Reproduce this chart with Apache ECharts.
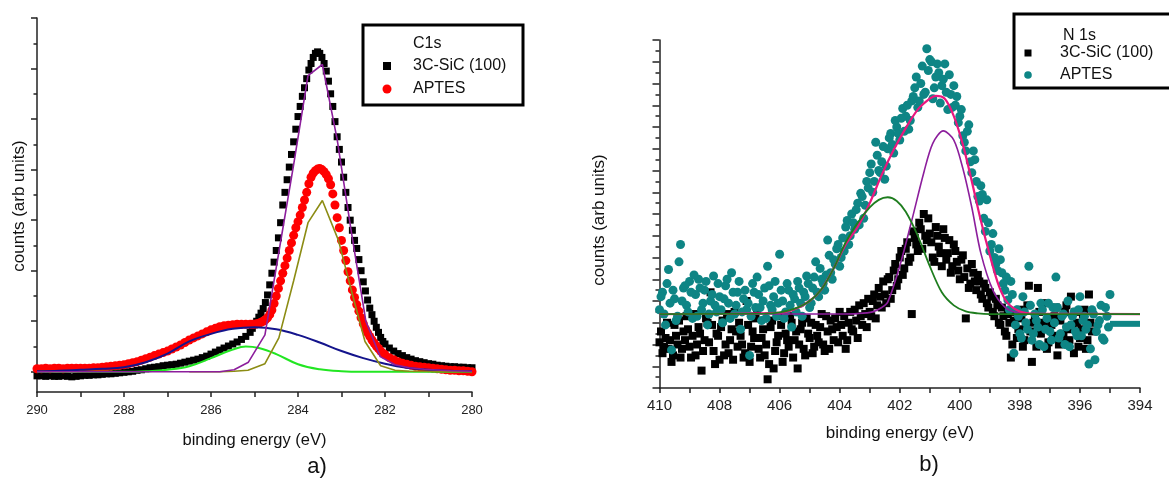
<!DOCTYPE html>
<html>
<head>
<meta charset="utf-8">
<script src="https://cdn.jsdelivr.net/npm/echarts@6/dist/echarts.min.js"></script>
<style>
  html, body { margin: 0; padding: 0; background: #ffffff; }
  #chart { width: 1169px; height: 478px; }
</style>
</head>
<body>
<div id="chart"></div>
<script>
// ---------- a) C1s spectra (binding energy in eV, counts in arb. units) ----------
const c1sEnergy = [
  290.0,289.9,289.8,289.7,289.6,289.5,289.4,289.3,289.2,289.1,
  289.0,288.9,288.8,288.7,288.6,288.5,288.4,288.3,288.2,288.1,
  288.0,287.9,287.8,287.7,287.6,287.5,287.4,287.3,287.2,287.1,
  287.0,286.9,286.8,286.7,286.6,286.5,286.4,286.3,286.2,286.1,
  286.0,285.9,285.8,285.7,285.6,285.5,285.4,285.3,285.2,285.1,
  285.05,285.00,284.95,284.90,284.85,284.80,284.75,284.70,284.65,284.60,
  284.55,284.50,284.45,284.40,284.35,284.30,284.25,284.20,284.15,284.10,
  284.05,284.00,283.95,283.90,283.85,283.80,283.75,283.70,283.65,283.60,
  283.55,283.50,283.45,283.40,283.35,283.30,283.25,283.20,283.15,283.10,
  283.05,283.00,282.95,282.90,282.85,282.80,282.75,282.70,282.65,282.60,
  282.55,282.50,282.45,282.40,282.35,282.30,282.25,282.20,282.15,282.10,
  282.05,
  282.0,281.9,281.8,281.7,281.6,281.5,281.4,281.3,281.2,281.1,
  281.0,280.9,280.8,280.7,280.6,280.5,280.4,280.3,280.2,280.1,280.0
];
const c1sSiC = [
  -0.08,-0.08,-0.09,-0.08,-0.09,-0.09,-0.08,-0.09,-0.10,-0.09,
  -0.08,-0.07,-0.07,-0.06,-0.06,-0.05,-0.04,-0.04,-0.03,-0.02,
  -0.01,0.00,0.01,0.03,0.04,0.06,0.08,0.09,0.10,0.12,
  0.13,0.14,0.15,0.17,0.19,0.21,0.23,0.25,0.28,0.31,
  0.35,0.39,0.43,0.47,0.51,0.55,0.59,0.64,0.70,0.78,
  0.86,0.93,1.00,1.08,1.16,1.25,1.37,1.52,1.72,1.95,
  2.17,2.40,2.65,2.95,3.30,3.55,3.80,4.05,4.30,4.55,
  4.80,5.05,5.25,5.45,5.62,5.80,5.97,6.10,6.22,6.30,
  6.33,6.30,6.22,6.10,5.95,5.75,5.50,5.25,4.95,4.65,
  4.40,4.15,3.85,3.55,3.25,3.00,2.80,2.60,2.44,2.22,
  2.00,1.78,1.60,1.42,1.26,1.13,1.00,0.88,0.78,0.68,
  0.60,
  0.55,0.47,0.41,0.36,0.32,0.28,0.25,0.22,0.20,0.18,
  0.16,0.15,0.13,0.12,0.11,0.10,0.10,0.09,0.09,0.08,0.08
];
const c1sAPTES = [
  0.06,0.06,0.07,0.06,0.07,0.07,0.06,0.07,0.07,0.07,
  0.07,0.07,0.07,0.08,0.08,0.09,0.10,0.11,0.12,0.13,
  0.14,0.16,0.18,0.20,0.23,0.26,0.29,0.32,0.35,0.38,
  0.41,0.45,0.49,0.53,0.58,0.63,0.67,0.71,0.75,0.79,
  0.83,0.86,0.89,0.91,0.92,0.93,0.94,0.94,0.94,0.94,
  0.94,0.94,0.95,0.96,0.98,1.00,1.03,1.07,1.13,1.22,
  1.35,1.50,1.65,1.80,1.95,2.10,2.25,2.40,2.55,2.70,
  2.85,2.97,3.10,3.25,3.40,3.55,3.72,3.85,3.93,3.98,
  4.01,4.02,4.00,3.96,3.90,3.82,3.70,3.52,3.30,3.05,
  2.85,2.60,2.40,2.20,1.98,1.80,1.62,1.47,1.33,1.20,
  1.07,0.95,0.85,0.77,0.70,0.63,0.57,0.51,0.46,0.41,
  0.37,
  0.34,0.28,0.24,0.20,0.17,0.15,0.13,0.11,0.10,0.09,
  0.08,0.07,0.06,0.05,0.04,0.03,0.03,0.02,0.02,0.01,0.00
];
// fitted components
const c1sBroadE = [290,289.5,289,288.5,288,287.5,287,286.5,286,285.5,285,284.5,284,283.5,283,282.5,282,281.5,281,280.5,280];
const c1sBroad  = [0.01,0.02,0.04,0.06,0.09,0.19,0.36,0.60,0.75,0.85,0.88,0.84,0.73,0.58,0.41,0.27,0.16,0.08,0.04,0.02,0.01];
const c1sMidE = [290,289,288,287.5,287,286.5,286,285.5,285.2,284.9,284.5,284,283.5,283,282.5,281,280];
const c1sMid  = [0,0,0,0.01,0.04,0.11,0.27,0.44,0.50,0.47,0.35,0.15,0.05,0.01,0,0,0];
const c1sSiCFitE = [290,285.8,285.47,285.14,284.76,284.44,284.1,283.77,283.44,283.1,282.77,282.44,282.11,281.77,281.44,281.1,280.5,280];
const c1sSiCFit  = [0,0,0.04,0.19,0.73,2.37,4.1,5.86,6.08,4.6,2.75,1.0,0.3,0.14,0.08,0.05,0.02,0.01];
const c1sMainE = [286.5,285.8,285.47,285.15,284.76,284.44,284.1,283.77,283.44,283.07,282.77,282.46,282.1,281.77,281.44,280];
const c1sMain  = [0,0,0.01,0.03,0.16,0.67,1.8,2.95,3.39,2.6,1.6,0.6,0.12,0.03,0.01,0];

// ---------- b) N 1s spectra (two interleaved energy scans per sample) ----------
const n1sSiCEnergyA = [
  410.0,409.9,409.8,409.7,409.6,409.5,409.4,409.3,409.2,409.1,
  409.0,408.9,408.8,408.7,408.6,408.5,408.4,408.3,408.2,408.1,
  408.0,407.9,407.8,407.7,407.6,407.5,407.4,407.3,407.2,407.1,
  407.0,406.9,406.8,406.7,406.6,406.5,406.4,406.3,406.2,406.1,
  406.0,405.9,405.8,405.7,405.6,405.5,405.4,405.3,405.2,405.1,
  405.0,404.9,404.8,404.7,404.6,404.5,404.4,404.3,404.2,404.1,
  404.0,403.9,403.8,403.7,403.6,403.5,403.4,403.3,403.2,403.1,
  403.0,402.9,402.8,402.7,402.6,402.5,402.4,402.3,402.2,402.1,
  402.0,401.9,401.8,401.7,401.6,401.5,401.4,401.3,401.2,401.1,
  401.0,400.9,400.8,400.7,400.6,400.5,400.4,400.3,400.2,400.1,
  400.0,399.9,399.8,399.7,399.6,399.5,399.4,399.3,399.2,399.1,
  399.0,398.9,398.8,398.7,398.6,398.5,398.4,398.3,398.2,398.1,
  398.0,397.9,397.8,397.7,397.6,397.5,397.4,397.3,397.2,397.1,
  397.0,396.9,396.8,396.7,396.6,396.5,396.4,396.3,396.2,396.1,
  396.0,395.9,395.8,395.7,395.6
];
const n1sSiCA = [
  2.1,1.6,2.3,1.8,1.2,2.9,2.0,1.4,2.6,3.3,
  1.9,2.4,1.5,2.8,0.8,2.2,3.0,4.4,1.7,2.5,
  1.3,3.1,2.0,1.6,2.7,3.5,1.9,2.4,1.4,4.0,
  1.2,2.6,3.2,1.8,2.3,1.5,0.4,2.8,0.9,2.1,
  3.3,1.2,2.5,1.9,3.0,2.2,0.9,2.7,1.8,3.2,
  2.3,1.6,2.9,2.1,3.4,1.7,2.6,3.1,2.2,2.8,
  3.5,2.4,1.8,3.0,2.7,3.6,2.3,3.3,3.9,2.8,
  3.5,4.0,3.2,4.6,3.7,4.3,5.0,4.1,5.4,4.7,
  6.0,5.2,6.4,5.8,3.4,6.9,6.3,7.3,8.0,6.8,
  7.1,6.0,7.4,6.5,5.6,6.9,6.2,5.3,6.6,5.8,
  5.0,6.1,3.2,4.6,5.7,4.9,5.2,4.3,4.8,3.9,
  4.4,3.5,4.1,3.0,3.7,2.6,3.4,1.4,3.1,2.3,
  3.6,1.9,2.8,4.7,1.2,3.3,4.6,2.5,3.0,1.8,
  3.2,2.4,3.7,2.0,2.2,3.5,2.7,4.2,1.6,3.0,
  2.3,3.4,1.8,4.3,2.6
];
const n1sSiCEnergyB = [
  409.95,409.85,409.75,409.65,409.55,409.45,409.35,409.25,409.15,409.05,
  408.95,408.85,408.75,408.65,408.55,408.45,408.35,408.25,408.15,408.05,
  407.95,407.85,407.75,407.65,407.55,407.45,407.35,407.25,407.15,407.05,
  406.95,406.85,406.75,406.65,406.55,406.45,406.35,406.25,406.15,406.05,
  405.95,405.85,405.75,405.65,405.55,405.45,405.35,405.25,405.15,405.05,
  404.95,404.85,404.75,404.65,404.55,404.45,404.35,404.25,404.15,404.05,
  403.95,403.85,403.75,403.65,403.55,403.45,403.35,403.25,403.15,403.05,
  402.95,402.85,402.75,402.65,402.55,402.45,402.35,402.25,402.15,402.05,
  401.95,401.85,401.75,401.65,401.55,401.45,401.35,401.25,401.15,401.05,
  400.95,400.85,400.75,400.65,400.55,400.45,400.35,400.25,400.15,400.05,
  399.95,399.85,399.75,399.65,399.55,399.45,399.35,399.25,399.15,399.05,
  398.95,398.85,398.75,398.65,398.55,398.45,398.35,398.25,398.15,398.05,
  397.95,397.85,397.75,397.65,397.55,397.45,397.35,397.25,397.15,397.05,
  396.95,396.85,396.75,396.65,396.55,396.45,396.35,396.25,396.15,396.05,
  395.95,395.85,395.75,395.65
];
const n1sSiCB = [
  2.6,1.9,3.0,2.2,1.5,2.4,3.1,1.8,2.2,2.7,
  1.4,3.4,2.0,2.5,1.7,3.2,2.1,2.9,1.1,2.4,
  2.8,1.5,3.4,2.2,1.3,2.6,3.0,2.0,1.6,2.9,
  1.9,2.3,3.6,1.4,2.7,2.0,1.1,3.1,1.7,2.4,
  2.9,1.6,2.2,3.3,1.4,2.6,2.0,3.0,1.5,2.5,
  3.0,1.9,2.4,2.8,2.0,3.3,1.8,2.7,3.2,2.1,
  2.9,3.3,2.2,3.5,2.6,3.1,3.8,2.9,3.4,4.1,
  3.3,4.3,3.8,4.2,4.9,3.9,5.1,4.5,5.7,5.0,
  6.3,5.5,6.7,6.0,7.2,6.6,7.6,6.4,7.0,7.8,
  6.7,5.8,7.0,6.2,7.3,5.9,6.8,5.6,6.3,5.4,
  5.9,5.1,5.5,4.8,5.3,4.5,4.9,4.1,4.6,3.7,
  4.2,3.3,3.8,2.9,3.3,2.4,3.0,2.0,3.5,2.7,
  3.2,2.2,3.8,2.6,3.0,1.9,3.5,2.8,3.9,2.1,
  2.9,3.3,1.5,3.1,2.5,3.8,2.2,2.9,3.5,1.9,
  2.7,3.6,2.2,3.0
];
const n1sAPTESEnergyA = [
  410.0,409.9,409.8,409.7,409.6,409.5,409.4,409.3,409.2,409.1,
  409.0,408.9,408.8,408.7,408.6,408.5,408.4,408.3,408.2,408.1,
  408.0,407.9,407.8,407.7,407.6,407.5,407.4,407.3,407.2,407.1,
  407.0,406.9,406.8,406.7,406.6,406.5,406.4,406.3,406.2,406.1,
  406.0,405.9,405.8,405.7,405.6,405.5,405.4,405.3,405.2,405.1,
  405.0,404.9,404.8,404.7,404.6,404.5,404.4,404.3,404.2,404.1,
  404.0,403.9,403.8,403.7,403.6,403.5,403.4,403.3,403.2,403.1,
  403.0,402.9,402.8,402.7,402.6,402.5,402.4,402.3,402.2,402.1,
  402.0,401.9,401.8,401.7,401.6,401.5,401.4,401.3,401.2,401.1,
  401.0,400.9,400.8,400.7,400.6,400.5,400.4,400.3,400.2,400.1,
  400.0,399.9,399.8,399.7,399.6,399.5,399.4,399.3,399.2,399.1,
  399.0,398.9,398.8,398.7,398.6,398.5,398.4,398.3,398.2,398.1,
  398.0,397.9,397.8,397.7,397.6,397.5,397.4,397.3,397.2,397.1,
  397.0,396.9,396.8,396.7,396.6,396.5,396.4,396.3,396.2,396.1,
  396.0,395.9,395.8,395.7,395.6,395.5,395.4,395.3,395.2,395.1,
  395.0
];
const n1sAPTESA = [
  3.6,4.4,2.9,5.45,1.75,4.1,3.3,6.6,4.6,3.8,
  4.9,3.2,4.3,5.0,3.6,4.5,2.9,4.0,5.15,3.5,
  4.2,3.0,4.7,3.9,5.3,3.4,4.4,2.7,4.1,3.6,
  1.5,4.8,3.7,4.3,3.1,4.6,5.6,3.8,4.2,3.3,
  6.15,4.0,3.5,4.5,2.8,4.1,4.9,3.9,4.4,5.15,
  3.7,4.6,5.8,4.2,5.0,4.5,6.8,5.3,5.9,6.4,
  5.6,6.9,7.4,6.6,8.0,7.3,8.5,8.95,7.8,9.5,
  9.9,9.0,11.3,10.0,10.4,9.6,11.0,11.7,10.8,12.0,
  11.4,12.85,12.5,11.9,13.2,13.8,12.9,14.0,13.5,15.6,
  15.1,13.3,14.3,14.5,13.9,14.9,12.8,13.5,13.9,13.4,
  12.5,11.6,10.9,12.1,9.9,10.5,8.8,9.3,7.8,8.65,
  6.3,7.1,5.7,6.4,5.3,4.5,4.05,4.9,1.6,3.6,
  2.5,4.2,3.0,5.6,2.2,3.4,2.8,3.9,1.9,3.2,
  2.6,3.7,5.1,2.3,3.3,2.0,4.0,2.9,3.5,2.4,
  4.2,3.1,2.7,1.1,3.6,1.3,2.9,3.8,2.2,3.3,
  4.3
];
const n1sAPTESEnergyB = [
  409.95,409.85,409.75,409.65,409.55,409.45,409.35,409.25,409.15,409.05,
  408.95,408.85,408.75,408.65,408.55,408.45,408.35,408.25,408.15,408.05,
  407.95,407.85,407.75,407.65,407.55,407.45,407.35,407.25,407.15,407.05,
  406.95,406.85,406.75,406.65,406.55,406.45,406.35,406.25,406.15,406.05,
  405.95,405.85,405.75,405.65,405.55,405.45,405.35,405.25,405.15,405.05,
  404.95,404.85,404.75,404.65,404.55,404.45,404.35,404.25,404.15,404.05,
  403.95,403.85,403.75,403.65,403.55,403.45,403.35,403.25,403.15,403.05,
  402.95,402.85,402.75,402.65,402.55,402.45,402.35,402.25,402.15,402.05,
  401.95,401.85,401.75,401.65,401.55,401.45,401.35,401.25,401.15,401.05,
  400.95,400.85,400.75,400.65,400.55,400.45,400.35,400.25,400.15,400.05,
  399.95,399.85,399.75,399.65,399.55,399.45,399.35,399.25,399.15,399.05,
  398.95,398.85,398.75,398.65,398.55,398.45,398.35,398.25,398.15,398.05,
  397.95,397.85,397.75,397.65,397.55,397.45,397.35,397.25,397.15,397.05,
  396.95,396.85,396.75,396.65,396.55,396.45,396.35,396.25,396.15,396.05,
  395.95,395.85,395.75,395.65,395.55,395.45,395.35,395.25,395.15,395.05
];
const n1sAPTESB = [
  4.2,3.4,4.8,3.9,4.5,3.1,5.8,4.0,4.7,3.5,
  4.4,5.2,3.3,4.6,3.9,4.9,3.4,4.3,3.8,4.8,
  3.6,4.1,5.0,3.2,4.4,3.8,4.9,3.5,4.5,3.9,
  3.3,4.4,5.1,3.7,4.0,3.2,4.7,3.6,4.9,3.9,
  4.5,3.2,4.8,3.8,4.3,3.5,4.6,3.3,4.2,4.8,
  3.9,5.1,4.4,5.5,4.8,5.2,6.1,5.0,5.7,6.6,
  6.0,6.3,7.7,7.0,7.6,8.2,7.5,8.8,8.4,9.2,
  10.3,9.5,10.7,9.9,11.1,10.2,11.5,11.2,12.3,11.7,
  12.4,11.8,13.0,12.3,13.4,14.3,13.2,14.8,13.6,14.6,
  15.0,13.8,14.9,13.1,14.2,13.6,14.4,12.9,13.0,12.2,
  12.8,11.3,11.8,10.4,10.9,9.5,8.6,8.9,7.2,7.6,
  6.6,6.0,5.4,5.9,4.8,5.1,3.6,4.3,2.9,3.3,
  2.3,3.5,2.7,3.8,2.5,3.1,2.0,3.6,2.7,3.9,
  2.2,3.0,3.7,2.5,3.4,2.8,1.9,3.3,2.6,3.6,
  2.4,3.3,2.9,1.8,3.4,2.6,3.1,2.3,3.7,2.8
];
const n1sAPTESTailE = [395.0, 394.0];
const n1sAPTESTail  = [2.95, 2.95];
// fitted components
const n1sHighE = [410,406.5,406.0,405.5,405.0,404.6,404.2,403.8,403.4,403.0,402.7,402.4,402.1,401.8,401.4,401.0,400.6,400.2,399.8,399.4,399.0,394];
const n1sHigh  = [3.4,3.42,3.48,3.65,4.0,4.55,5.5,6.7,7.6,8.3,8.65,8.77,8.6,8.1,7.0,5.6,4.4,3.8,3.52,3.43,3.4,3.4];
const n1sLowE = [410,404.0,403.4,402.9,402.6,402.4,402.0,401.6,401.2,400.9,400.55,400.2,399.9,399.6,399.3,398.9,398.5,398.1,397.6,394];
const n1sLow  = [3.4,3.4,3.42,3.5,3.7,3.95,5.6,7.7,9.9,11.25,11.82,11.4,10.1,8.3,6.2,4.5,3.72,3.47,3.41,3.4];
const n1sSumE = [410,406.0,405.5,405.0,404.6,404.2,403.8,403.4,403.0,402.6,402.2,401.8,401.4,401.0,400.8,400.5,400.2,399.9,399.6,399.3,399.0,398.7,398.4,398.0,397.5,394];
const n1sSum  = [3.4,3.46,3.62,4.0,4.55,5.5,6.6,7.4,8.5,9.8,10.95,11.95,12.8,13.3,13.43,13.3,12.5,11.2,9.5,7.7,6.1,4.7,3.9,3.52,3.42,3.4];

// tick sets
const c1sMajorTicks = [0,1,2,3,4,5,6,7];
const c1sMinorTicks = [0.5,1.5,2.5,3.5,4.5,5.5,6.5];

const FONT = "'Liberation Sans', Arial, sans-serif";
const AX = '#222';
const pairs = (xs, ys) => xs.map((x, i) => [x, ys[i]]);

const chart = echarts.init(document.getElementById('chart'), null, { renderer: 'canvas' });

function xAxisFor(grid, min, max, fontSize, margin) {
  return {
    type: 'value', gridIndex: grid, min: min, max: max, interval: 2, inverse: true,
    axisLine: { show: true, onZero: false, lineStyle: { color: AX, width: 1.5 } },
    axisTick: { show: true, length: 5, lineStyle: { color: AX, width: 1.5 } },
    minorTick: { show: true, splitNumber: 2, length: 5, lineStyle: { color: AX, width: 1.5 } },
    axisLabel: { fontSize: fontSize, color: '#222', fontFamily: FONT, margin: margin },
    splitLine: { show: false }, minorSplitLine: { show: false }
  };
}

function line(name, xi, yi, xs, ys, color, width, smooth) {
  return {
    name: name, type: 'line', xAxisIndex: xi, yAxisIndex: yi,
    data: pairs(xs, ys), symbol: 'none', smooth: smooth,
    lineStyle: { color: color, width: width }, itemStyle: { color: color },
    silent: true, animation: false
  };
}

function dots(name, xi, yi, data, symbol, size, color) {
  return {
    name: name, type: 'scatter', xAxisIndex: xi, yAxisIndex: yi,
    data: data, symbol: symbol, symbolSize: size,
    itemStyle: { color: color, opacity: 1 }, silent: true, animation: false
  };
}

const option = {
  backgroundColor: '#ffffff',
  animation: false,
  grid: [
    { left: 37, top: 18, width: 435, height: 374 },
    { left: 659.5, top: 40, width: 480.5, height: 348 }
  ],
  xAxis: [
    xAxisFor(0, 280, 290, 13, 12),
    xAxisFor(1, 394, 410, 15, 10)
  ],
  yAxis: [
    {
      type: 'value', gridIndex: 0, min: -0.4, max: 7,
      axisLine: { show: true, onZero: false, lineStyle: { color: AX, width: 1.5 } },
      axisTick: { show: true, length: 6, customValues: c1sMajorTicks, lineStyle: { color: AX, width: 1.5 } },
      axisLabel: { show: false }, splitLine: { show: false }
    },
    {
      type: 'value', gridIndex: 0, min: -0.4, max: 7, position: 'left',
      axisLine: { show: false },
      axisTick: { show: true, length: 3.5, customValues: c1sMinorTicks, lineStyle: { color: AX, width: 1.5 } },
      axisLabel: { show: false }, splitLine: { show: false }
    },
    {
      type: 'value', gridIndex: 1, min: 0, max: 16, interval: 1,
      axisLine: { show: true, onZero: false, lineStyle: { color: AX, width: 1.5 } },
      axisTick: { show: true, length: 7, lineStyle: { color: AX, width: 1.5 } },
      minorTick: { show: true, splitNumber: 2, length: 4, lineStyle: { color: AX, width: 1.5 } },
      axisLabel: { show: false }, splitLine: { show: false }, minorSplitLine: { show: false }
    }
  ],
  series: [
    // a) C1s
    dots('3C-SiC (100)', 0, 0, pairs(c1sEnergy, c1sSiC), 'rect', 7, '#000000'),
    dots('APTES', 0, 0, pairs(c1sEnergy, c1sAPTES), 'circle', 9, '#ff0000'),
    line('C1s component 3', 0, 0, c1sMidE, c1sMid, '#22e622', 2, 0.4),
    line('C1s component 2', 0, 0, c1sBroadE, c1sBroad, '#14148c', 2, 0.4),
    line('C1s component 1', 0, 0, c1sMainE, c1sMain, '#8c8c14', 1.6, false),
    line('C1s SiC fit', 0, 0, c1sSiCFitE, c1sSiCFit, '#8c1e9c', 1.6, false),
    // b) N 1s
    dots('3C-SiC (100)', 1, 2, pairs(n1sSiCEnergyA, n1sSiCA).concat(pairs(n1sSiCEnergyB, n1sSiCB)), 'rect', 8, '#000000'),
    dots('APTES', 1, 2, pairs(n1sAPTESEnergyA, n1sAPTESA).concat(pairs(n1sAPTESEnergyB, n1sAPTESB)), 'circle', 9, '#0e8585'),
    line('APTES tail', 1, 2, n1sAPTESTailE, n1sAPTESTail, '#0e8585', 6, false),
    line('N 1s low-energy component', 1, 2, n1sLowE, n1sLow, '#8c1e9c', 1.6, 0.3),
    line('N 1s sum', 1, 2, n1sSumE, n1sSum, '#e8187e', 2.2, 0.3),
    line('N 1s high-energy component', 1, 2, n1sHighE, n1sHigh, '#1e7d1e', 1.8, 0.3)
  ],
  graphic: [
    // axis titles and panel letters
    { type: 'text', x: 254.5, y: 440, z: 20, style: { text: 'binding energy (eV)', fontSize: 16.5, fontFamily: FONT, fill: '#111', align: 'center', verticalAlign: 'middle' } },
    { type: 'text', x: 19, y: 206, rotation: Math.PI / 2, z: 20, style: { text: 'counts (arb units)', fontSize: 17, fontFamily: FONT, fill: '#111', align: 'center', verticalAlign: 'middle' } },
    { type: 'text', x: 317, y: 467, z: 20, style: { text: 'a)', fontSize: 22, fontFamily: FONT, fill: '#111', align: 'center', verticalAlign: 'middle' } },
    { type: 'text', x: 900, y: 433, z: 20, style: { text: 'binding energy (eV)', fontSize: 17, fontFamily: FONT, fill: '#111', align: 'center', verticalAlign: 'middle' } },
    { type: 'text', x: 599, y: 220, rotation: Math.PI / 2, z: 20, style: { text: 'counts (arb units)', fontSize: 17, fontFamily: FONT, fill: '#111', align: 'center', verticalAlign: 'middle' } },
    { type: 'text', x: 929, y: 465, z: 20, style: { text: 'b)', fontSize: 22, fontFamily: FONT, fill: '#111', align: 'center', verticalAlign: 'middle' } },

    // legend a)
    { type: 'rect', z: 30, shape: { x: 363, y: 25, width: 160, height: 80 }, style: { fill: '#ffffff', stroke: '#000000', lineWidth: 3 } },
    { type: 'text', x: 413, y: 44, z: 31, style: { text: 'C1s', fontSize: 16, fontFamily: FONT, fill: '#111', align: 'left', verticalAlign: 'middle' } },
    { type: 'rect', z: 31, shape: { x: 383, y: 62, width: 8, height: 8 }, style: { fill: '#000000' } },
    { type: 'text', x: 413, y: 66, z: 31, style: { text: '3C-SiC (100)', fontSize: 16, fontFamily: FONT, fill: '#111', align: 'left', verticalAlign: 'middle' } },
    { type: 'circle', z: 31, shape: { cx: 387, cy: 89, r: 4.5 }, style: { fill: '#ff0000' } },
    { type: 'text', x: 413, y: 89, z: 31, style: { text: 'APTES', fontSize: 16, fontFamily: FONT, fill: '#111', align: 'left', verticalAlign: 'middle' } },

    // legend b)
    { type: 'rect', z: 30, shape: { x: 1014, y: 14, width: 170, height: 74 }, style: { fill: '#ffffff', stroke: '#000000', lineWidth: 3 } },
    { type: 'text', x: 1063, y: 36, z: 31, style: { text: 'N 1s', fontSize: 16, fontFamily: FONT, fill: '#111', align: 'left', verticalAlign: 'middle' } },
    { type: 'rect', z: 31, shape: { x: 1024.5, y: 49.5, width: 7, height: 7 }, style: { fill: '#000000' } },
    { type: 'text', x: 1060, y: 53, z: 31, style: { text: '3C-SiC (100)', fontSize: 16, fontFamily: FONT, fill: '#111', align: 'left', verticalAlign: 'middle' } },
    { type: 'circle', z: 31, shape: { cx: 1028, cy: 75, r: 3.8 }, style: { fill: '#0e8585' } },
    { type: 'text', x: 1060, y: 75, z: 31, style: { text: 'APTES', fontSize: 16, fontFamily: FONT, fill: '#111', align: 'left', verticalAlign: 'middle' } }
  ]
};

chart.setOption(option);
</script>
</body>
</html>
